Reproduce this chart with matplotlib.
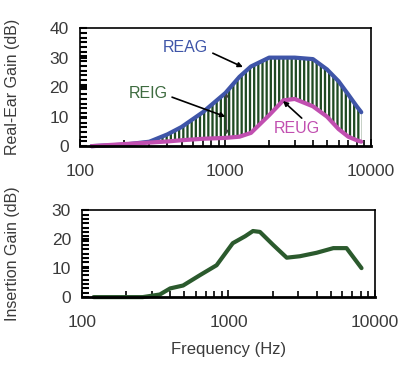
import numpy as np
import matplotlib.pyplot as plt
from matplotlib.ticker import FixedLocator, MultipleLocator, NullFormatter

plt.rcParams["font.family"] = ["Liberation Sans", "DejaVu Sans"]
plt.rcParams["hatch.linewidth"] = 1.35

# Real-ear gains (top panel)
freq_re = [120, 200, 300, 400, 500, 700, 1000, 1250, 1500, 2000, 2500,
           3000, 4000, 5000, 6000, 7000, 8000, 8600]
reag = [0, 0.5, 1.5, 4, 6.5, 11.5, 18, 23.5, 27, 30, 30,
        30, 29.5, 26, 22, 17.5, 13.5, 11.5]
reug = [0, 0.7, 1.2, 1.6, 2, 2.5, 2.8, 3.2, 4.5, 10.5, 15.5,
        16, 13.5, 10, 5.8, 3.2, 2, 1.5]

# Insertion gain (bottom panel)
freq_ig = [120, 200, 260, 340, 400, 490, 640, 830, 1070, 1300, 1470,
           1640, 2020, 2500, 3070, 4000, 5200, 6400, 8100]
ig = [0, 0, 0, 0.9, 3, 4, 7.6, 11, 18.6, 21, 22.8,
      22.5, 18, 13.6, 14.1, 15.3, 16.9, 16.9, 10]

x_ticks = [100, 1000, 10000]
x_ticklabels = ["100", "1000", "10000"]

blue = "#3f55a8"
pink = "#c14fb0"
green = "#1f4a22"
text_grey = "#3a3a3a"

fig = plt.figure(figsize=(4.12, 3.70), dpi=100)
ax1 = fig.add_axes([0.194, 0.605, 0.706, 0.319])
ax2 = fig.add_axes([0.199, 0.197, 0.711, 0.235])


def style_axes(ax, ymax, yminor):
    ax.set_xscale("log")
    ax.set_xlim(100, 10000)
    ax.set_ylim(0, ymax)
    ax.xaxis.set_major_locator(FixedLocator(x_ticks))
    ax.set_xticklabels(x_ticklabels)
    ax.xaxis.set_minor_formatter(NullFormatter())
    ax.set_yticks(np.arange(0, ymax + 1, 10))
    ax.yaxis.set_minor_locator(MultipleLocator(yminor))
    ax.tick_params(axis="x", which="both", direction="in", top=False,
                   labelsize=12.5, labelcolor=text_grey, pad=13)
    ax.tick_params(axis="x", which="major", length=5, width=1.2)
    ax.tick_params(axis="x", which="minor", length=4, width=1.2)
    ax.tick_params(axis="y", which="both", direction="in", right=False,
                   labelsize=12.5, labelcolor=text_grey, pad=8)
    ax.tick_params(axis="y", which="major", length=5, width=1.5)
    ax.tick_params(axis="y", which="minor", length=5, width=1.5)
    for side in ["top", "right", "left"]:
        ax.spines[side].set_linewidth(1.2)
    ax.spines["bottom"].set_linewidth(2)


# Top panel
style_axes(ax1, 40, 1.6)
ax1.fill_between(freq_re, reug, reag, facecolor=green, edgecolor="white",
                 hatch="||||", linewidth=0)
ax1.plot(freq_re, reag, color=blue, linewidth=3, clip_on=False,
         solid_capstyle="round")
ax1.plot(freq_re, reug, color=pink, linewidth=3, clip_on=False,
         solid_capstyle="round")

arrow = dict(arrowstyle="-|>", color="black", lw=1.2, mutation_scale=7,
             shrinkA=0, shrinkB=0)
ax1.text(527, 33.6, "REAG", color=blue, fontsize=11.5,
         ha="center", va="center")
ax1.annotate("", xy=(1320, 26.8), xytext=(820, 31.5), arrowprops=arrow)
ax1.text(293, 18, "REIG", color="#3d6b3f", fontsize=11.5,
         ha="center", va="center")
ax1.annotate("", xy=(1000, 10), xytext=(430, 16.6), arrowprops=arrow)
ax1.text(3090, 6.1, "REUG", color=pink, fontsize=11.5,
         ha="center", va="center")
ax1.annotate("", xy=(2490, 15.3), xytext=(3350, 9.5), arrowprops=arrow)
ax1.annotate("", xy=(1020, 18), xytext=(1020, 4),
             arrowprops=dict(arrowstyle="<|-|>", color="#404040", lw=0.8,
                             mutation_scale=5, shrinkA=0, shrinkB=0))

ax1.set_ylabel("Real-Ear Gain (dB)", fontsize=11.5, color=text_grey)
ax1.yaxis.set_label_coords(-0.205, 0.5)

# Bottom panel
style_axes(ax2, 30, 1.5)
ax2.plot(freq_ig, ig, color="#2b5a2d", linewidth=3, clip_on=False,
         solid_capstyle="round")
ax2.set_ylabel("Insertion Gain (dB)", fontsize=11.5, color=text_grey)
ax2.yaxis.set_label_coords(-0.21, 0.5)
ax2.set_xlabel("Frequency (Hz)", fontsize=12, color=text_grey)
ax2.xaxis.set_label_coords(0.5, -0.52)

fig.savefig("out.png", dpi=100)
